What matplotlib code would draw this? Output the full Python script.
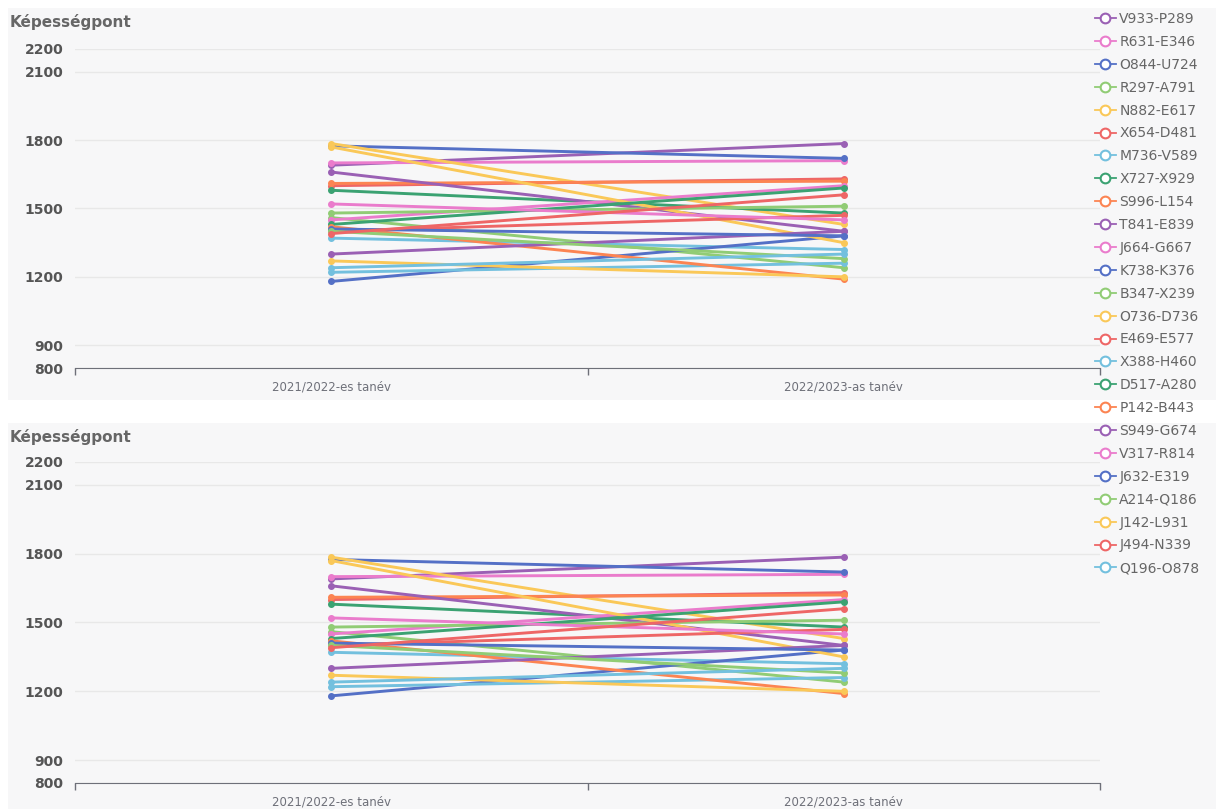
import matplotlib.pyplot as plt
from matplotlib.patches import Rectangle
from matplotlib.lines import Line2D

plt.rcParams['font.family'] = ['DejaVu Sans']

# categories and series
years = ["2021/2022-es tanév", "2022/2023-as tanév"]
names = ["V933-P289", "R631-E346", "O844-U724", "R297-A791", "N882-E617",
         "X654-D481", "M736-V589", "X727-X929", "S996-L154", "T841-E839",
         "J664-G667", "K738-K376", "B347-X239", "O736-D736", "E469-E577",
         "X388-H460", "D517-A280", "P142-B443", "S949-G674", "V317-R814",
         "J632-E319", "A214-Q186", "J142-L931", "J494-N339", "Q196-O878"]
first = [1690, 1700, 1775, 1460, 1785, 1600, 1370, 1580, 1610, 1660,
         1450, 1180, 1480, 1770, 1400, 1220, 1430, 1420, 1300, 1520,
         1410, 1400, 1270, 1390, 1240]
second = [1785, 1710, 1720, 1240, 1430, 1630, 1320, 1480, 1620, 1400,
          1600, 1380, 1510, 1350, 1470, 1260, 1590, 1190, 1400, 1450,
          1380, 1280, 1200, 1560, 1300]
yticks = [800, 900, 1200, 1500, 1800, 2100, 2200]

palette = ['#9a60b4', '#ea7ccc', '#5470c6', '#91cc75', '#fac858',
           '#ee6666', '#73c0de', '#3ba272', '#fc8452']
colors = [palette[i % len(palette)] for i in range(len(names))]

W, H = 1216, 809
fig = plt.figure(figsize=(W / 100, H / 100), dpi=100, facecolor='white')

# grey panel backgrounds
fig.patches.append(Rectangle((8 / W, 1 - 400 / H), 1, 392 / H, transform=fig.transFigure,
                             facecolor='#f7f7f8', edgecolor='none', zorder=-10))
fig.patches.append(Rectangle((8 / W, 0), 1, 1 - 423 / H, transform=fig.transFigure,
                             facecolor='#f7f7f8', edgecolor='none', zorder=-10))

panels = [(49, 368, 22), (462, 783, 437)]
handles = []
for top, bottom, title_y in panels:
    ax = fig.add_axes([75 / W, 1 - bottom / H, 1025 / W, (bottom - top) / H])
    ax.set_facecolor('none')
    for i, name in enumerate(names):
        ax.plot([0, 1], [first[i], second[i]], color=colors[i], lw=2.1,
                marker='o', ms=4, mfc=colors[i], mec=colors[i], label=name,
                solid_capstyle='round')
        if top == 49:
            handles.append(Line2D([], [], color=colors[i], lw=1.3, marker='o', ms=7,
                                  mfc='white', mec=colors[i], mew=1.5))
    ax.set_xlim(-0.5, 1.5)
    ax.set_ylim(800, 2200)
    ax.set_yticks(yticks)
    ax.set_xticks([0, 1])
    ax.set_xticklabels(years, fontsize=8.5, color='#6e7079')
    ax.set_xticks([-0.5, 0.5, 1.5], minor=True)
    ax.tick_params(axis='x', which='major', length=0, pad=9)
    ax.tick_params(axis='x', which='minor', length=5, color='#6e7079', width=1)
    ax.tick_params(axis='y', length=0, pad=8.5, labelsize=10, labelcolor='#555555')
    for lab in ax.get_yticklabels():
        lab.set_fontweight('bold')
    ax.grid(axis='y', color='#e8e8e8', lw=1)
    ax.set_axisbelow(True)
    for s in ['top', 'right', 'left']:
        ax.spines[s].set_visible(False)
    ax.spines['bottom'].set_color('#6e7079')
    fig.text(10 / W, 1 - title_y / H, "Képességpont", fontsize=11, fontweight='bold',
             color='#666666', va='center', ha='left')

fig.legend(handles, names, loc='upper left', bbox_to_anchor=(1095 / W, 1 - 12 / H),
           frameon=False, fontsize=10, labelcolor='#666666', handlelength=1.5,
           handletextpad=0.25, labelspacing=0.64, borderpad=0, borderaxespad=0)

fig.savefig('out.png', dpi=100)
